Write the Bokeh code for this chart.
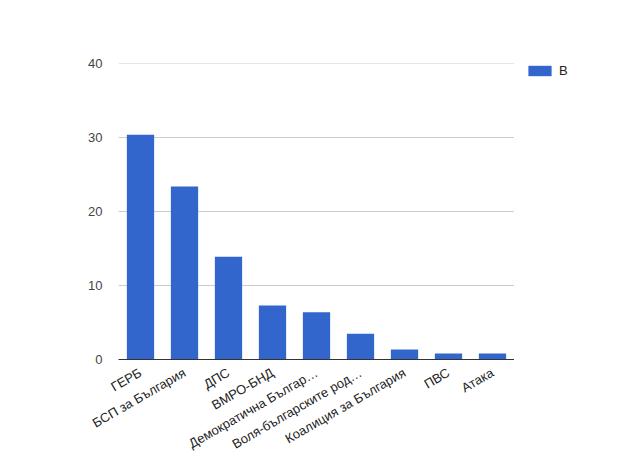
import math
from bokeh.plotting import figure
from bokeh.layouts import row
from bokeh.models import ColumnDataSource, Legend, LegendItem, FixedTicker, Range1d
from bokeh.embed import file_html
from bokeh.resources import INLINE

# данни
parties = ["ГЕРБ", "БСП за България", "ДПС", "ВМРО-БНД", "Демократична Българ…",
           "Воля-българските род…", "Коалиция за България", "ПВС", "Атака"]
votes = [30.4, 23.4, 13.9, 7.3, 6.4, 3.5, 1.35, 0.8, 0.8]
series_name = "В"
y_ticks = [0, 10, 20, 30, 40]
bar_color = "#3366cc"

source = ColumnDataSource(dict(party=parties, votes=votes))

p = figure(x_range=parties, width=514, height=461, output_backend="svg",
           toolbar_location=None, min_border_left=118, min_border_right=0,
           min_border_top=63, min_border_bottom=86)
p.y_range = Range1d(0, 40.05)

p.vbar(x="party", top="votes", width=0.62, source=source,
       fill_color=bar_color, line_color=None)

p.outline_line_color = None
p.xgrid.grid_line_color = None
p.ygrid.grid_line_color = "#cccccc"
p.ygrid.ticker = FixedTicker(ticks=y_ticks)

p.yaxis.ticker = FixedTicker(ticks=y_ticks)
p.yaxis.axis_line_color = None
p.yaxis.major_tick_line_color = None
p.yaxis.minor_tick_line_color = None
p.yaxis.major_label_text_font = "Liberation Sans"
p.yaxis.major_label_text_font_size = "13px"
p.yaxis.major_label_text_color = "#444444"
p.yaxis.major_label_standoff = 10

p.xaxis.axis_line_color = "#333333"
p.xaxis.major_tick_line_color = None
p.xaxis.major_label_orientation = math.pi / 6
p.xaxis.major_label_text_font = "Liberation Sans"
p.xaxis.major_label_text_font_size = "13px"
p.xaxis.major_label_text_color = "#222222"
p.xaxis.major_label_standoff = 6

# отделна малка фигура само за легендата (глифът е извън обхвата)
lg = figure(width=112, height=461, output_backend="svg", toolbar_location=None,
            min_border_left=11, min_border_top=63, min_border_right=0,
            min_border_bottom=0, x_range=(0, 1), y_range=(0, 1))
lg.axis.visible = False
lg.grid.visible = False
lg.outline_line_color = None
dummy = lg.vbar(x=[-5], top=[-5], bottom=[-6], width=0.5,
                fill_color=bar_color, line_color=None)

legend = Legend(items=[LegendItem(label=series_name, renderers=[dummy])],
                location="top_left", border_line_color=None,
                background_fill_alpha=0, padding=0, margin=0,
                glyph_width=29, glyph_height=13, label_height=13,
                label_standoff=5, label_text_font="Liberation Sans",
                label_text_font_size="13px", label_text_color="#222222")
lg.add_layout(legend)

layout = row(p, lg)
open("out.html", "w").write(file_html(layout, INLINE))
